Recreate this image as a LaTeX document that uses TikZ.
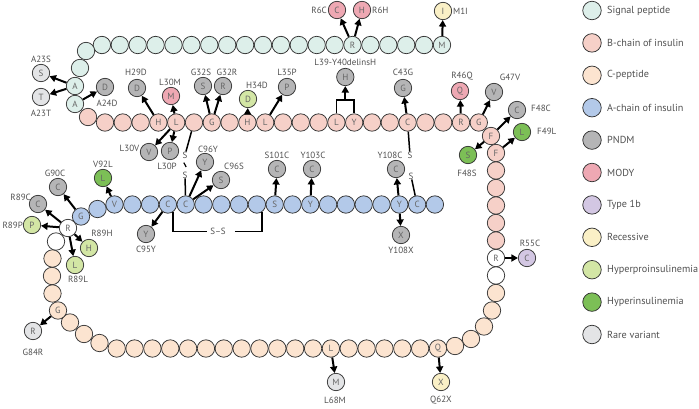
\documentclass[tikz,border=0pt]{standalone}
\usepackage{fontspec}
\setmainfont{PT Sans}
\usetikzlibrary{arrows.meta,calc}
\definecolor{sigc}{HTML}{DDEFEA}
\definecolor{bch}{HTML}{F6D0C8}
\definecolor{cpep}{HTML}{FCE4D0}
\definecolor{ach}{HTML}{B3C9E9}
\definecolor{pndm}{HTML}{B5B5B6}
\definecolor{mody}{HTML}{EEA8B3}
\definecolor{tib}{HTML}{D3C7E3}
\definecolor{recs}{HTML}{FAF0C6}
\definecolor{hpro}{HTML}{D3E6A5}
\definecolor{hins}{HTML}{7CBF56}
\definecolor{rare}{HTML}{E3E4E6}
\definecolor{ol}{HTML}{333333}
\definecolor{lett}{HTML}{666666}
\definecolor{txt}{HTML}{505050}
\begin{document}
\begin{tikzpicture}[x=1pt,y=-1pt,
  res/.style={circle,draw=ol,line width=0.75pt,minimum size=17.4pt,inner sep=0pt,font=\fontsize{9}{9}\selectfont,text=lett},
  ltr/.style={inner sep=0pt,font=\fontsize{9}{9}\selectfont,text=lett},
  lab/.style={inner sep=0pt,font=\fontsize{9}{10}\selectfont,text=txt},
  arr/.style={line width=2pt,-{Triangle[length=6.5pt,width=7pt]}},
  bond/.style={line width=1.5pt},
  leg/.style={inner sep=0pt,font=\fontsize{10.2}{12}\selectfont,text=txt,anchor=west}]
\useasboundingbox (0,0) rectangle (699,408);

% ---------- chain ----------
\foreach \i in {1,...,20} \node[res,fill=sigc] (r\i) at ({442-(\i-1)*17.9},45) {};
\node[res,fill=sigc] (r21) at (86,51) {};
\node[res,fill=sigc] (r22) at (80,68) {};
\node[res,fill=sigc] (r23) at (75,86) {};
\node[res,fill=sigc] (r24) at (75,104) {};
\node[res,fill=bch] (r25) at (88,117) {};
\foreach \i in {26,...,47} \node[res,fill=bch] (r\i) at ({105+(\i-26)*17.8},122.5) {};
\node[res,fill=bch] (r48) at (491,136) {};
\node[res,fill=bch] (r49) at (496,153) {};
\foreach \i in {50,...,54} \node[res,fill=bch] (r\i) at (496,{153+(\i-49)*17.5}) {};
\foreach \i in {55,56} \node[res,fill=white] (r\i) at (496,{153+(\i-49)*17.5}) {};
\node[res,fill=cpep] (r57) at (496,293) {};
\node[res,fill=cpep] (r58) at (492,310.5) {};
\node[res,fill=cpep] (r59) at (484,326.5) {};
\node[res,fill=cpep] (r60) at (471,339) {};
\node[res,fill=cpep] (r61) at (455,346) {};
\foreach \i in {62,...,80} \node[res,fill=cpep] (r\i) at ({438-(\i-62)*17.85},348.5) {};
\node[res,fill=cpep] (r81) at (99.5,343) {};
\node[res,fill=cpep] (r82) at (84,334) {};
\node[res,fill=cpep] (r83) at (70,322.5) {};
\node[res,fill=cpep] (r84) at (58,310.5) {};
\node[res,fill=cpep] (r85) at (52.5,293.5) {};
\node[res,fill=cpep] (r86) at (52,276) {};
\node[res,fill=cpep] (r87) at (52.5,258.5) {};
\node[res,fill=white] (r88) at (56,241.5) {};
\node[res,fill=white] (r89) at (68,228) {};
\node[res,fill=ach] (r90) at (81,216.5) {};
\node[res,fill=ach] (r91) at (97.5,209) {};
\foreach \i in {92,...,110} \node[res,fill=ach] (r\i) at ({114.5+(\i-92)*17.8},204.5) {};
\foreach \i/\l in {1/M,6/R,23/A,24/A,29/H,30/L,32/G,34/H,35/L,39/L,40/Y,43/C,46/R,47/G,48/F,49/F,55/R,62/Q,68/L,84/G,89/R,90/G,92/V,95/C,96/C,101/S,103/Y,108/Y,109/C}
  \node[ltr] (t\i) at (r\i) {\l};

% ---------- disulfide bonds ----------
\node[lab] (s1a) at (185,155) {S};
\node[lab] (s1b) at (185,175) {S};
\draw[bond] (r31) -- (s1a);
\draw[bond,line width=1.2pt] ($(s1a)!0.38!(s1b)+(-1.2,0)$) -- ($(s1a)!0.6!(s1b)+(1.2,0)$);
\draw[bond] (s1b) -- (r96);
\node[lab] (s2a) at (410,155) {S};
\node[lab] (s2b) at (411,176) {S};
\draw[bond] (r43) -- (s2a);
\draw[bond] (s2b) -- (r109);
\node[lab] (ss) at (218,231.5) {S–S};
\draw[bond] ([xshift=5pt,yshift=2pt]r95.south) |- ([xshift=-3pt]ss.west);
\draw[bond] ([xshift=9pt]ss.east) -| ([xshift=5pt,yshift=2pt]r100.south);

% ---------- mutations ----------
\node[res,fill=recs] (mM1I) at (443,11) {I};
\node[lab,anchor=west] (lM1I) at (453,11) {M1I};
\node[res,fill=mody] (mR6C) at (337,10) {C};
\node[lab,anchor=east] (lR6C) at (327,10) {R6C};
\node[res,fill=mody] (mR6H) at (362,10) {H};
\node[lab,anchor=west] (lR6H) at (372,10) {R6H};
\node[res,fill=rare] (mA23S) at (41,73) {S};
\node[lab] (lA23S) at (41,59) {A23S};
\node[res,fill=rare] (mA23T) at (41,97) {T};
\node[lab] (lA23T) at (41,113) {A23T};
\node[res,fill=pndm] (mA24D) at (105,87) {D};
\node[lab] (lA24D) at (107,103) {A24D};
\node[res,fill=pndm] (mH29D) at (137,88) {D};
\node[lab] (lH29D) at (136,72) {H29D};
\node[res,fill=mody] (mL30M) at (171,96) {M};
\node[lab] (lL30M) at (170,82) {L30M};
\node[res,fill=pndm] (mL30V) at (149,152) {V};
\node[lab,anchor=east] (lL30V) at (139.5,148) {L30V};
\node[res,fill=pndm] (mL30P) at (170,151) {P};
\node[lab] (lL30P) at (167,166) {L30P};
\node[res,fill=pndm] (mG32S) at (203,86) {S};
\node[lab] (lG32S) at (201,72) {G32S};
\node[res,fill=pndm] (mG32R) at (223,86) {R};
\node[lab] (lG32R) at (227,72) {G32R};
\node[res,fill=hpro] (mH34D) at (248,99) {D};
\node[lab] (lH34D) at (257,85) {H34D};
\node[res,fill=pndm] (mL35P) at (287,87) {P};
\node[lab] (lL35P) at (287,72) {L35P};
\node[res,fill=pndm] (mDel) at (345.3,77) {H};
\node[lab] (lDel) at (345.3,62) {L39-Y40delinsH};
\node[res,fill=pndm] (mC43G) at (403,88) {G};
\node[lab] (lC43G) at (403,72) {C43G};
\node[res,fill=mody] (mR46Q) at (460,91) {Q};
\node[lab] (lR46Q) at (462,76) {R46Q};
\node[res,fill=pndm] (mG47V) at (494,92) {V};
\node[lab] (lG47V) at (510,77) {G47V};
\node[res,fill=pndm] (mF48C) at (517,110) {C};
\node[lab,anchor=west] (lF48C) at (531,108) {F48C};
\node[res,fill=hins] (mF49L) at (522,132) {L};
\node[lab,anchor=west] (lF49L) at (537,131) {F49L};
\node[res,fill=hins] (mF48S) at (468,155) {S};
\node[lab] (lF48S) at (467,173) {F48S};
\node[res,fill=tib] (mR55C) at (527,258) {C};
\node[lab] (lR55C) at (530,243) {R55C};
\node[res,fill=recs] (mQ62X) at (441,382) {X};
\node[lab] (lQ62X) at (441,400) {Q62X};
\node[res,fill=rare] (mL68M) at (336,382) {M};
\node[lab] (lL68M) at (335,400) {L68M};
\node[res,fill=rare] (mG84R) at (33,331) {R};
\node[lab] (lG84R) at (33,352) {G84R};
\node[res,fill=pndm] (mG90C) at (58,187) {C};
\node[lab] (lG90C) at (55,173) {G90C};
\node[res,fill=pndm] (mR89C) at (38,204) {C};
\node[lab,anchor=east] (lR89C) at (31,197) {R89C};
\node[res,fill=hpro] (mR89P) at (32,225) {P};
\node[lab,anchor=east] (lR89P) at (23,225) {R89P};
\node[res,fill=hpro] (mR89H) at (89,248) {H};
\node[lab] (lR89H) at (102,233) {R89H};
\node[res,fill=hpro] (mR89L) at (75,265) {L};
\node[lab] (lR89L) at (78,279) {R89L};
\node[res,fill=hins] (mV92L) at (103,178) {L};
\node[lab] (lV92L) at (103,164) {V92L};
\node[res,fill=pndm] (mC95Y) at (146,234) {Y};
\node[lab] (lC95Y) at (146,249) {C95Y};
\node[res,fill=pndm] (mC96Y) at (205,162) {Y};
\node[lab] (lC96Y) at (208,149) {C96Y};
\node[res,fill=pndm] (mC96S) at (221,180) {S};
\node[lab] (lC96S) at (234,166) {C96S};
\node[res,fill=pndm] (mS101C) at (277,169) {C};
\node[lab] (lS101C) at (277,155) {S101C};
\node[res,fill=pndm] (mY103C) at (312,169) {C};
\node[lab] (lY103C) at (313,155) {Y103C};
\node[res,fill=pndm] (mY108C) at (396,169) {C};
\node[lab] (lY108C) at (390,155) {Y108C};
\node[res,fill=pndm] (mY108X) at (401,235) {X};
\node[lab] (lY108X) at (401,250) {Y108X};

% bracket for delins
\coordinate (br) at (345.3,100);
\draw[bond] (r39.north) |- (br) -| (r40.north);

% ---------- arrows ----------
\draw[arr] (r1) -- (mM1I);
\draw[arr] (r6) -- (mR6C);
\draw[arr] (r6) -- (mR6H);
\draw[arr] (r23) -- (mA23S);
\draw[arr] (r23) -- (mA23T);
\draw[arr] (r24) -- (mA24D);
\draw[arr] (r29) -- (mH29D);
\draw[arr] (r30) -- (mL30M);
\draw[arr] (r30) -- (mL30V);
\draw[arr] (r30) -- (mL30P);
\draw[arr] (r32) -- (mG32S);
\draw[arr] (r32) -- (mG32R);
\draw[arr] (r34) -- (mH34D);
\draw[arr] (r35) -- (mL35P);
\draw[arr] (br) -- (mDel);
\draw[arr] (r43) -- (mC43G);
\draw[arr] (r46) -- (mR46Q);
\draw[arr] (r47) -- (mG47V);
\draw[arr] (r48) -- (mF48C);
\draw[arr] (r48) -- (mF48S);
\draw[arr] (r49) -- (mF49L);
\draw[arr] (r55) -- (mR55C);
\draw[arr] (r62) -- (mQ62X);
\draw[arr] (r68) -- (mL68M);
\draw[arr] (r84) -- (mG84R);
\draw[arr] (r89) -- (mR89C);
\draw[arr] (r89) -- (mR89P);
\draw[arr] (r89) -- (mR89H);
\draw[arr] (r89) -- (mR89L);
\draw[arr] (r90) -- (mG90C);
\draw[arr] (r92) -- (mV92L);
\draw[arr] (r95) -- (mC95Y);
\draw[arr] (r96) -- (mC96Y);
\draw[arr] (r96) -- (mC96S);
\draw[arr] (r101) -- (mS101C);
\draw[arr] (r103) -- (mY103C);
\draw[arr] (r108) -- (mY108C);
\draw[arr] (r108) -- (mY108X);

% ---------- legend ----------
\foreach \c/\t [count=\n from 0] in {sigc/Signal peptide,bch/B-chain of insulin,cpep/C-peptide,ach/A-chain of insulin,pndm/PNDM,mody/MODY,tib/Type 1b,recs/Recessive,hpro/Hyperproinsulinemia,hins/Hyperinsulinemia,rare/Rare variant}
{
  \node[res,minimum size=18.5pt,fill=\c] (lg\n) at (592,{10.5+\n*32.4}) {};
  \node[leg] (lt\n) at (607,{10.5+\n*32.4}) {\t};
}
\end{tikzpicture}
\end{document}
